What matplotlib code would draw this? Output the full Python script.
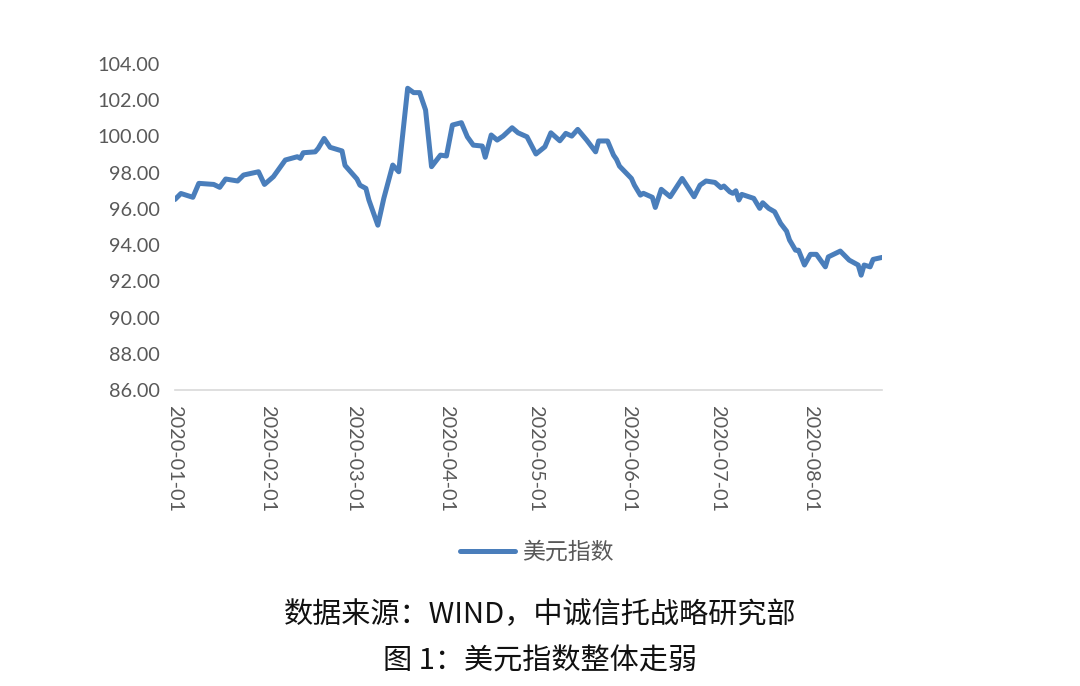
import pandas as pd
import numpy as np
import matplotlib
matplotlib.use("Agg")
import matplotlib.pyplot as plt

plt.rcParams['font.family'] = ['Lato', 'Noto Sans CJK SC', 'DejaVu Sans']

# 美元指数
dates = [
    "2020-01-01", "2020-01-03", "2020-01-07", "2020-01-09", "2020-01-14", "2020-01-16",
    "2020-01-18", "2020-01-22", "2020-01-24", "2020-01-29", "2020-01-31", "2020-02-03",
    "2020-02-07", "2020-02-11", "2020-02-12", "2020-02-13", "2020-02-17", "2020-02-18",
    "2020-02-20", "2020-02-22", "2020-02-24", "2020-02-26", "2020-02-27", "2020-03-02",
    "2020-03-03", "2020-03-05", "2020-03-06", "2020-03-09", "2020-03-11", "2020-03-14",
    "2020-03-16", "2020-03-19", "2020-03-21", "2020-03-23", "2020-03-25", "2020-03-27",
    "2020-03-30", "2020-04-01", "2020-04-03", "2020-04-06", "2020-04-08", "2020-04-10",
    "2020-04-13", "2020-04-14", "2020-04-16", "2020-04-18", "2020-04-20", "2020-04-23",
    "2020-04-25", "2020-04-28", "2020-05-01", "2020-05-04", "2020-05-06", "2020-05-09",
    "2020-05-11", "2020-05-13", "2020-05-15", "2020-05-18", "2020-05-21", "2020-05-22",
    "2020-05-25", "2020-05-27", "2020-05-28", "2020-05-29", "2020-06-02", "2020-06-03",
    "2020-06-05", "2020-06-06", "2020-06-09", "2020-06-10", "2020-06-12", "2020-06-15",
    "2020-06-19", "2020-06-23", "2020-06-25", "2020-06-27", "2020-06-30", "2020-07-02",
    "2020-07-03", "2020-07-05", "2020-07-06", "2020-07-07", "2020-07-08", "2020-07-09",
    "2020-07-13", "2020-07-15", "2020-07-16", "2020-07-18", "2020-07-20", "2020-07-22",
    "2020-07-24", "2020-07-25", "2020-07-27", "2020-07-28", "2020-07-30", "2020-08-01",
    "2020-08-03", "2020-08-06", "2020-08-07", "2020-08-11", "2020-08-14", "2020-08-17",
    "2020-08-18", "2020-08-19", "2020-08-21", "2020-08-22", "2020-08-25",
]
usd_index = [
    96.52, 96.85, 96.64, 97.41, 97.35, 97.19,
    97.65, 97.54, 97.87, 98.05, 97.35, 97.78,
    98.70, 98.88, 98.79, 99.10, 99.15, 99.34,
    99.89, 99.40, 99.30, 99.20, 98.40, 97.65,
    97.31, 97.13, 96.49, 95.10, 96.58, 98.42,
    98.05, 102.66, 102.42, 102.42, 101.46, 98.33,
    98.97, 98.92, 100.63, 100.76, 99.98, 99.52,
    99.47, 98.85, 100.08, 99.80, 100.02, 100.48,
    100.20, 99.98, 99.03, 99.43, 100.20, 99.76,
    100.17, 100.02, 100.39, 99.80, 99.15, 99.75,
    99.75, 98.97, 98.73, 98.36, 97.68, 97.31,
    96.76, 96.86, 96.64, 96.08, 97.08, 96.67,
    97.68, 96.67, 97.31, 97.54, 97.46, 97.17,
    97.26, 96.94, 96.86, 97.00, 96.49, 96.80,
    96.58, 96.03, 96.34, 96.03, 95.84, 95.20,
    94.77, 94.28, 93.72, 93.72, 92.90, 93.49,
    93.49, 92.80, 93.35, 93.67, 93.17, 92.90,
    92.34, 92.90, 92.80, 93.21, 93.32,
]
tick_dates = ["2020-01-01", "2020-02-01", "2020-03-01", "2020-04-01",
              "2020-05-01", "2020-06-01", "2020-07-01", "2020-08-01"]
y_ticks = [86, 88, 90, 92, 94, 96, 98, 100, 102, 104]

df = pd.DataFrame({"date": pd.to_datetime(dates), "value": usd_index})

fig = plt.figure(figsize=(10.8, 6.86), dpi=100)
ax = fig.add_axes([0.162, 0.4315, 0.6547, 0.4752])

line_color = "#4a7ebb"
grey = "#595959"
ax.plot(df["date"], df["value"], color=line_color, linewidth=3.6,
        solid_joinstyle="round", solid_capstyle="round", label="美元指数")

ax.set_ylim(86, 104)
ax.set_yticks(y_ticks)
ax.set_yticklabels([f"{v:.2f}" for v in y_ticks])
ax.set_xlim(pd.Timestamp("2020-01-01"), pd.Timestamp("2020-08-25"))
ax.set_xticks(pd.to_datetime(tick_dates))
ax.set_xticklabels(tick_dates, rotation=270)

for s in ["left", "right", "top"]:
    ax.spines[s].set_visible(False)
ax.spines["bottom"].set_color("#d9d9d9")
ax.spines["bottom"].set_linewidth(1.2)
ax.tick_params(axis="both", length=0, colors=grey, labelsize=14.3)
ax.tick_params(axis="y", pad=11)
ax.tick_params(axis="x", pad=11)

leg = fig.legend(loc="center", bbox_to_anchor=(0.497, 0.195), frameon=False,
                 handlelength=2.4, handletextpad=0.3,
                 prop={"family": ["Noto Sans CJK SC"], "size": 16.5})
for t in leg.get_texts():
    t.set_color(grey)

fig.text(0.5, 0.103, "数据来源：WIND，中诚信托战略研究部", ha="center", va="center",
         fontsize=21, color="#111111", family=["Noto Sans CJK SC", "DejaVu Sans"])
fig.text(0.5, 0.035, "图 1：美元指数整体走弱", ha="center", va="center",
         fontsize=21, color="#111111", family=["Noto Sans CJK SC", "DejaVu Sans"])

fig.savefig("out.png", dpi=100)
